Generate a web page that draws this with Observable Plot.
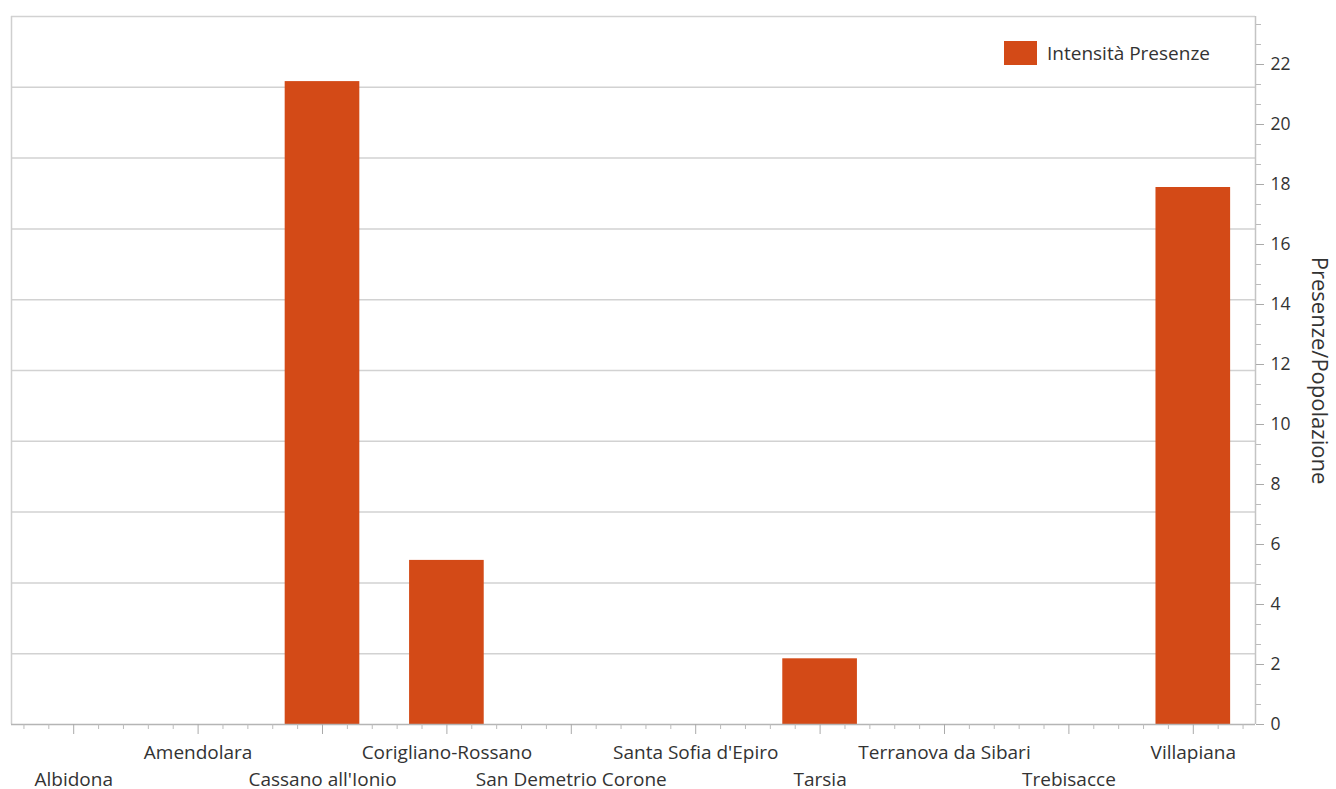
<!DOCTYPE html>
<html><head><meta charset="utf-8">
<script src="https://cdn.jsdelivr.net/npm/d3@7"></script>
<script src="https://cdn.jsdelivr.net/npm/@observablehq/plot@0.6"></script>
<style>
body{margin:0;background:#fff;}
#wrap{position:relative;width:1336px;height:789px;font-family:"Open Sans",sans-serif;}
.legend{position:absolute;left:1004px;top:40px;display:flex;align-items:center;font-size:19px;color:#333;}
.sw{width:33px;height:24px;background:#D34A17;margin-right:10px;}
</style>
</head><body><div id="wrap"></div>
<script>
const categories = ["Albidona","Amendolara","Cassano all'Ionio","Corigliano-Rossano","San Demetrio Corone","Santa Sofia d'Epiro","Tarsia","Terranova da Sibari","Trebisacce","Villapiana"];
const values = [0, 0, 21.43, 5.47, 0, 0, 2.19, 0, 0, 17.9];
const yTickLabels = [0,2,4,6,8,10,12,14,16,18,20,22];
const seriesName = "Intensità Presenze";
const yTitle = "Presenze/Popolazione";
const yMax = 23.6;

const data = categories.map((c,i)=>({c, i, v: values[i]}));
const idx = categories.map((c,i)=>i);
const xMinor = idx.flatMap(i=>[i-0.4,i-0.2,i+0.2,i+0.4]);
const yMinor = d3.range(0, yMax, 2/3).filter(v=>Math.abs(v/2 - Math.round(v/2))>0.01);
const gridVals = d3.range(1, 11).map(k=>k*yMax/10);

const plot = Plot.plot({
  width:1336, height:789,
  marginLeft:11, marginRight:81, marginTop:16, marginBottom:65,
  x:{type:"linear", domain:[-0.5, categories.length-0.5]},
  y:{domain:[0,yMax]},
  style:{fontFamily:"Open Sans, sans-serif", fontSize:"17.5px", color:"#333", background:"#fff", overflow:"visible"},
  marks:[
    Plot.ruleY(gridVals, {stroke:"#d2d2d2", strokeWidth:1.5}),
    Plot.ruleX([-0.5], {stroke:"#cfcfcf", strokeWidth:1.5}),
    Plot.rectY(data, {x1:d=>d.i-0.3, x2:d=>d.i+0.3, y:"v", fill:"#D34A17"}),
    Plot.ruleY([0], {stroke:"#b5b5b5", strokeWidth:1.5}),
    Plot.ruleX([categories.length-0.5], {stroke:"#c4c4c4", strokeWidth:1.5}),
    Plot.axisX({ticks:idx, tickSize:10, tickFormat:()=>"", label:null, stroke:"#aaa"}),
    Plot.axisX({ticks:xMinor, tickSize:5, tickFormat:()=>"", label:null, stroke:"#bbb"}),
    Plot.axisY({anchor:"right", ticks:yTickLabels, tickSize:8, tickPadding:7, label:null, stroke:"#aaa"}),
    Plot.axisY({anchor:"right", ticks:yMinor, tickSize:5, tickFormat:()=>"", label:null, stroke:"#bbb"}),
    Plot.text(data.filter(d=>d.i%2===1), {x:"i", y:()=>0, text:"c", dy:28, fontSize:19, fill:"#333"}),
    Plot.text(data.filter(d=>d.i%2===0), {x:"i", y:()=>0, text:"c", dy:55, fontSize:19, fill:"#333"}),
    Plot.text([yTitle], {frameAnchor:"right", textAnchor:"middle", dx:64, rotate:90, fontSize:22, fill:"#333"})
  ]
});
const wrap = document.getElementById("wrap");
wrap.appendChild(plot);
const lg = document.createElement("div");
lg.className = "legend";
lg.innerHTML = `<div class="sw"></div><span>${seriesName}</span>`;
wrap.appendChild(lg);
</script>
</body></html>
